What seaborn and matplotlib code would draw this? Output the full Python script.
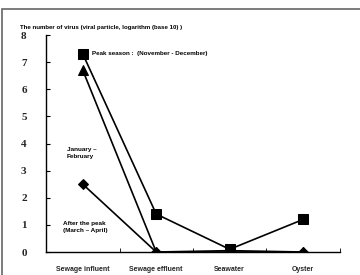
import pandas as pd
import seaborn as sns
import matplotlib.pyplot as plt
from matplotlib.patches import Rectangle
from matplotlib.ticker import FixedLocator

sites = ['Sewage influent', 'Sewage effluent', 'Seawater', 'Oyster']
peak = [7.3, 1.4, 0.1, 1.2]          # November - December
jan_feb = [6.7, 0.0, 0.0, 0.0]       # January - February
after = [2.5, 0.0, 0.05, 0.0]        # March - April

dados = pd.DataFrame({
    'pos': list(range(4)) * 3,
    'valor': peak + jan_feb + after,
    'serie': ['peak'] * 4 + ['jan'] * 4 + ['after'] * 4,
})

sns.set_style('white')
fig = plt.figure(figsize=(3.6, 2.75), dpi=100)
ax = fig.add_axes([0.128, 0.0836, 0.816, 0.789])

marcadores = {'peak': 's', 'jan': '^', 'after': 'D'}
tamanhos = {'peak': 7, 'jan': 7, 'after': 5}
for serie, m in marcadores.items():
    sns.lineplot(x='pos', y='valor', data=dados[dados['serie'] == serie], ax=ax,
                 color='black', marker=m, markersize=tamanhos[serie],
                 markeredgecolor='black', linewidth=1.2, legend=False)

ax.set_xlim(-0.5, 3.5)
ax.set_ylim(0, 8)
ax.set_xlabel('')
ax.set_ylabel('')

for lado in ['top', 'right']:
    ax.spines[lado].set_visible(False)
for lado in ['left', 'bottom']:
    ax.spines[lado].set_color('black')
    ax.spines[lado].set_linewidth(1.0)

ax.set_xticks(range(4))
ax.set_xticklabels(sites, fontsize=5, fontweight='bold', family='Liberation Sans')
ax.xaxis.set_minor_locator(FixedLocator([0.5, 1.5, 2.5, 3.5]))
ax.tick_params(axis='x', which='major', length=0, pad=10)
ax.tick_params(axis='x', which='minor', length=3, direction='in', color='black', bottom=True)

ax.set_yticks(range(9))
ax.set_yticklabels([str(i) for i in range(9)], fontsize=8, fontweight='bold',
                   family='Liberation Serif')
ax.tick_params(axis='y', length=3, direction='in', color='black', left=True, pad=14)

fonte = dict(fontweight='bold', family='Liberation Sans', color='black')
fig.text(20 / 360, 1 - 27 / 275, 'The number of virus (viral particle, logarithm (base 10) )',
         va='center', ha='left', fontsize=4.4, **fonte)
fig.text(92 / 360, 1 - 54 / 275, 'Peak season :  (November - December)',
         va='center', ha='left', fontsize=4.5, **fonte)
fig.text(67 / 360, 1 - 153 / 275, 'January –\nFebruary', va='center', ha='left',
         linespacing=1.3, fontsize=4.6, **fonte)
fig.text(63 / 360, 1 - 227 / 275, 'After the peak\n(March – April)', va='center', ha='left',
         linespacing=1.3, fontsize=4.6, **fonte)

fig.patches.append(Rectangle((2 / 360, -0.1), 1.2, 1 - 9 / 275 + 0.1, transform=fig.transFigure,
                             fill=False, edgecolor='#666666', linewidth=1.2))

fig.savefig('out.png', dpi=100)
